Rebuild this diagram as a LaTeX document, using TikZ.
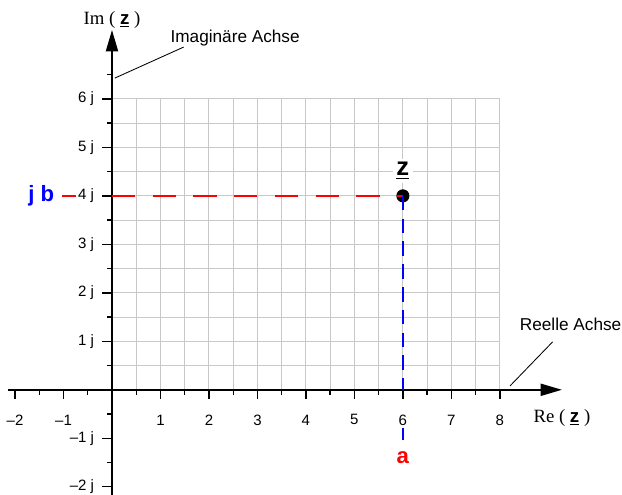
\documentclass[tikz,border=0pt]{standalone}
\usepackage{fontspec}
\setmainfont{Liberation Serif}
\setsansfont{Liberation Sans}
\usetikzlibrary{arrows.meta,positioning}
\definecolor{gridgray}{RGB}{200,200,200}
\newcommand{\zvec}{{\sffamily\bfseries\underline{z}}}

\begin{document}
\begin{tikzpicture}[
    ticklbl/.style={font=\sffamily\fontsize{8.8}{10}\selectfont, inner sep=1pt},
    note/.style={font=\sffamily\fontsize{10.1}{12}\selectfont, inner sep=1pt},
    axlbl/.style={font=\fontsize{11}{13}\selectfont, inner sep=1pt},
    part/.style={font=\sffamily\bfseries\fontsize{13}{15}\selectfont, inner sep=1pt},
    axis/.style={-{Triangle[length=4.4mm, width=2.5mm]}, line width=1pt},
    lead/.style={line width=0.5pt}
  ]
  \useasboundingbox (-2.31,-2.165) rectangle (10.52,8.04);
  % grid
  \draw[gridgray, line width=0.6pt] (0,0) grid[step=0.5] (8,6);
  % axes
  \coordinate (xstart) at (-2.14,0);
  \coordinate (xend) at (9.28,0);
  \coordinate (ystart) at (0,-2.2);
  \coordinate (yend) at (0,7.42);
  \draw[axis] (xstart) -- (xend);
  \draw[axis] (ystart) -- (yend);
  % ticks
  \foreach \x in {-2,...,8} \draw[line width=0.8pt] (\x,0) -- (\x,-0.2);
  \foreach \x in {-1.5,-0.5,...,7.5} \draw[line width=0.8pt] (\x,0) -- (\x,-0.1);
  \foreach \y in {-2,...,6} \draw[line width=0.8pt] (0,\y) -- (-0.2,\y);
  \foreach \y in {-1.5,-0.5,...,6.5} \draw[line width=0.8pt] (0,\y) -- (-0.1,\y);
  % tick labels
  \foreach \x/\t in {-2/–2,-1/–1,1/1,2/2,3/3,4/4,5/5,6/6,7/7,8/8}
    \node[ticklbl] (xl\x) at (\x,-0.62) {\t};
  \foreach \y/\t in {-2/–2 j,-1/–1 j,1/1 j,2/2 j,3/3 j,4/4 j,5/5 j,6/6 j}
    \node[ticklbl, anchor=east] (yl\y) at (-0.33,\y) {\t};
  % axis names
  \node[axlbl] (imlbl) at (0,7.63) {Im ( \zvec\ )};
  \node[axlbl] (relbl) at (9.28,-0.58) {Re ( \zvec\ )};
  \node[note] (imnote) at (2.54,7.26) {Imaginäre Achse};
  \node[note] (renote) at (9.46,1.34) {Reelle Achse};
  \coordinate (imfoot) at (0.06,6.43);
  \coordinate (refoot) at (8.21,0.08);
  \draw[lead] (imfoot) -- (1.48,7.07);
  \draw[lead] (refoot) -- (9.09,0.99);
  % point z
  \node[circle, fill=black, inner sep=0pt, minimum size=0.27cm] (z) at (6,4) {};
  \node[part, fill=white, inner sep=2pt, font=\sffamily\bfseries\fontsize{15}{17}\selectfont] (zname) at (6,4.52) {\underline{z}};
  \node[part, text=blue] (jb) at (-1.46,4) {j b};
  \node[part, text=red] (a) at (6,-1.4) {a};
  \coordinate (ax) at (6,0);
  \coordinate (by) at (0,4);
  \coordinate (astub) at (6,-0.78);
  \coordinate (aend) at (6,-1.03);
  \draw[red, line width=1pt, dash pattern=on 0.48cm off 0.36cm] (by) -- (z.center);
  \draw[blue, line width=1pt, dash pattern=on 0.3cm off 0.17cm] (z.center) -- (ax);
  \draw[red, line width=1pt] (jb.east) ++(0.12,0) -- (yl4.west);
  \draw[blue, line width=1pt] (astub) -- (aend);
\end{tikzpicture}
\end{document}
